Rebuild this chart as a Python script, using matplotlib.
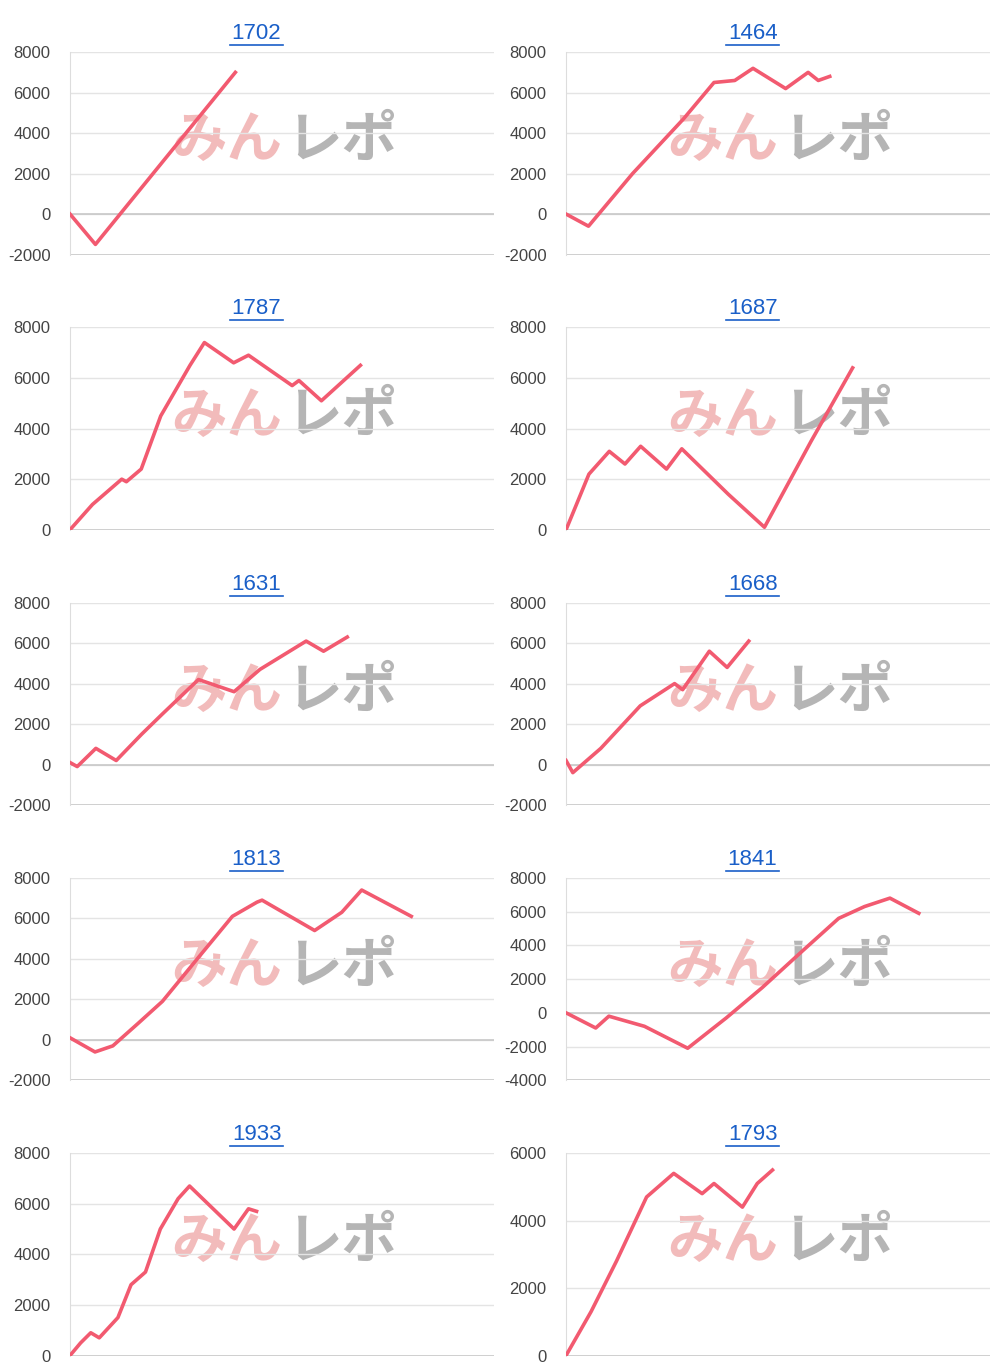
import matplotlib
matplotlib.use("Agg")
import numpy as np
from matplotlib import pyplot as plt

titles = ["1702", "1464", "1787", "1687", "1631", "1668", "1813", "1841", "1933", "1793"]

# x given as fraction of the plot width, y as value
xs = [
    [0, 0.06, 0.39],
    [0, 0.053, 0.157, 0.277, 0.349, 0.398, 0.441, 0.518, 0.571, 0.595, 0.622],
    [0, 0.053, 0.122, 0.133, 0.168, 0.214, 0.283, 0.317, 0.386, 0.421, 0.524, 0.540, 0.593, 0.639, 0.685],
    [0, 0.054, 0.102, 0.139, 0.176, 0.237, 0.273, 0.383, 0.468, 0.578, 0.676],
    [0, 0.017, 0.061, 0.109, 0.169, 0.218, 0.303, 0.387, 0.448, 0.557, 0.598, 0.654],
    [0, 0.016, 0.082, 0.175, 0.256, 0.275, 0.338, 0.380, 0.431],
    [0, 0.059, 0.101, 0.160, 0.218, 0.312, 0.383, 0.441, 0.453, 0.577, 0.641, 0.688, 0.805],
    [0, 0.070, 0.101, 0.185, 0.287, 0.378, 0.463, 0.559, 0.643, 0.704, 0.764, 0.832],
    [0, 0.025, 0.049, 0.069, 0.113, 0.144, 0.178, 0.213, 0.255, 0.282, 0.387, 0.421, 0.440],
    [0, 0.059, 0.119, 0.190, 0.254, 0.321, 0.349, 0.416, 0.451, 0.487],
]
ys = [
    [0, -1500, 7000],
    [0, -600, 2000, 4700, 6500, 6600, 7200, 6200, 7000, 6600, 6800],
    [0, 1000, 2000, 1900, 2400, 4500, 6500, 7400, 6600, 6900, 5700, 5900, 5100, 5800, 6500],
    [0, 2200, 3100, 2600, 3300, 2400, 3200, 1400, 100, 3500, 6400],
    [100, -100, 800, 200, 1500, 2500, 4200, 3600, 4700, 6100, 5600, 6300],
    [200, -400, 800, 2900, 4000, 3700, 5600, 4800, 6100],
    [100, -600, -300, 800, 1900, 4300, 6100, 6800, 6900, 5400, 6300, 7400, 6100],
    [0, -900, -200, -800, -2100, -300, 1500, 3700, 5600, 6300, 6800, 5900],
    [0, 500, 900, 700, 1500, 2800, 3300, 5000, 6200, 6700, 5000, 5800, 5700],
    [0, 1300, 2800, 4700, 5400, 4800, 5100, 4400, 5100, 5500],
]
yticks = [
    [-2000, 0, 2000, 4000, 6000, 8000],
    [-2000, 0, 2000, 4000, 6000, 8000],
    [0, 2000, 4000, 6000, 8000],
    [0, 2000, 4000, 6000, 8000],
    [-2000, 0, 2000, 4000, 6000, 8000],
    [-2000, 0, 2000, 4000, 6000, 8000],
    [-2000, 0, 2000, 4000, 6000, 8000],
    [-4000, -2000, 0, 2000, 4000, 6000, 8000],
    [0, 2000, 4000, 6000, 8000],
    [0, 2000, 4000, 6000],
]

plt.rcParams["font.family"] = ["Liberation Sans", "Noto Sans CJK JP", "DejaVu Sans"]
plt.rcParams["axes.unicode_minus"] = False
fig, axes = plt.subplots(5, 2, figsize=(10, 13.72), dpi=100)
plt.subplots_adjust(left=0.07, right=0.99, top=0.962, bottom=0.012, hspace=0.36, wspace=0.17)

for ax, t, x, y, yt in zip(axes.flat, titles, xs, ys, yticks):
    ax.plot(x, y, color="#f25a70", lw=2.6, zorder=3)
    ax.set_xlim(0, 1)
    ax.set_ylim(yt[0], yt[-1])
    ax.set_yticks(yt)
    ax.set_xticks([])
    ax.tick_params(axis="y", length=0, labelsize=12, colors="#444444", pad=14)
    ax.grid(axis="y", color="#e4e4e4", lw=1)
    for s in ["top", "right"]:
        ax.spines[s].set_visible(False)
    ax.spines["left"].set_color("#dddddd")
    ax.spines["bottom"].set_visible(False)
    ax.axhline(0, color="#c8c8c8", lw=1.2, zorder=2)
    if yt[0] < 0:
        ax.axhline(yt[0], color="#c8c8c8", lw=1.2, zorder=2)
    ax.text(0.44, 1.04, t, transform=ax.transAxes, fontsize=16, color="#1a5fc8",
            ha="center", va="bottom")
    ax.plot([0.377, 0.503], [1.035, 1.035], transform=ax.transAxes, color="#1a5fc8",
            lw=1.2, clip_on=False)
    # watermark
    ax.text(0.37, 0.56, "みん", transform=ax.transAxes, fontsize=40, fontweight="bold",
            color="#f0b0b0", alpha=0.85, ha="center", va="center", style="italic",
            family=["Noto Sans CJK JP"], zorder=1)
    ax.text(0.64, 0.56, "レポ", transform=ax.transAxes, fontsize=40, fontweight="bold",
            color="#a8a8a8", alpha=0.85, ha="center", va="center", style="italic",
            family=["Noto Sans CJK JP"], zorder=1)

plt.savefig("out.png", dpi=100)
